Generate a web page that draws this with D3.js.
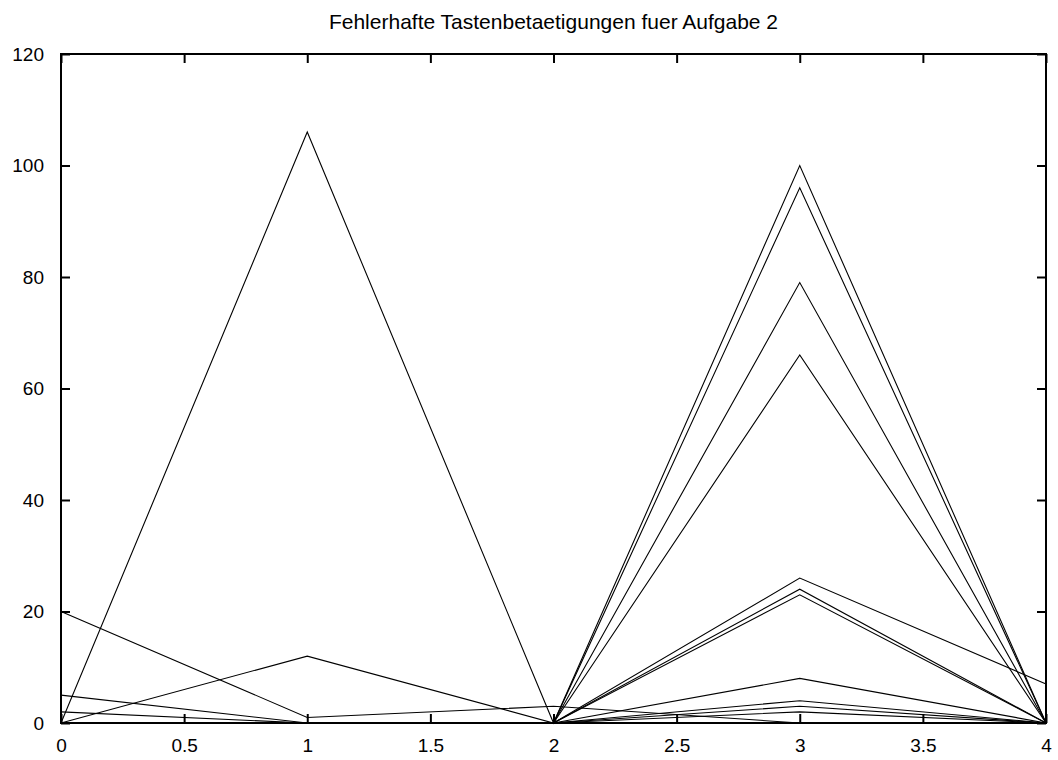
<!DOCTYPE html>
<html>
<head>
<meta charset="utf-8">
<script src="https://cdn.jsdelivr.net/npm/d3@7"></script>
<style>
  body { margin: 0; background: #fff; }
  text { font-family: "Liberation Sans", Arial, sans-serif; }
</style>
</head>
<body>
<svg width="1058" height="760"></svg>
<script>
// chart title and tick values
const title = 'Fehlerhafte Tastenbetaetigungen fuer Aufgabe 2'
const xValues = [0, 1, 2, 3, 4]
const xTicks = [0, 0.5, 1, 1.5, 2, 2.5, 3, 3.5, 4]
const yTicks = [0, 20, 40, 60, 80, 100, 120]

// one array per line, values at x = 0..4
const run1 = [0, 106, 0, 100, 0]
const run2 = [0, 12, 0, 96, 0]
const run3 = [20, 1, 3, 0, 0]
const run4 = [5, 0, 0, 79, 0]
const run5 = [2, 0, 0, 66, 0]
const run6 = [0, 0, 0, 26, 7]
const run7 = [0, 0, 0, 24, 0]
const run8 = [0, 0, 0, 23, 0]
const run9 = [0, 0, 0, 8, 0]
const run10 = [0, 0, 0, 4, 0]
const run11 = [0, 0, 0, 3, 0]
const run12 = [0, 0, 0, 2, 0]
const runs = [run1, run2, run3, run4, run5, run6, run7, run8, run9, run10, run11, run12]

const svg = d3.select('svg')
const plotLeft = 61, plotRight = 1046, plotTop = 54, plotBottom = 723

const xScale = d3.scaleLinear().domain([0, 4]).range([plotLeft, plotRight])
const yScale = d3.scaleLinear().domain([0, 120]).range([plotBottom, plotTop])

//title
svg.append('text')
  .attr('x', (plotLeft + plotRight) / 2)
  .attr('y', 29)
  .attr('text-anchor', 'middle')
  .attr('font-size', 21)
  .text(title)

//data lines
const line = d3.line()
  .x((d, i) => xScale(xValues[i]))
  .y(d => yScale(d))

svg.append('g')
  .selectAll('path')
  .data(runs)
  .enter().append('path')
    .attr('d', line)
    .attr('fill', 'none')
    .attr('stroke', '#000')
    .attr('stroke-width', 1.1)

//axes with inward ticks, mirrored on top and right
function styleAxis(g) {
  g.select('.domain').remove()
  g.selectAll('.tick line').attr('stroke', '#000').attr('stroke-width', 2)
  g.selectAll('.tick text').attr('font-size', 19).attr('fill', '#000')
    .attr('font-family', '"Liberation Sans", Arial, sans-serif')
}

svg.append('g')
  .attr('transform', `translate(0,${plotBottom})`)
  .call(d3.axisBottom(xScale).tickValues(xTicks).tickFormat(d3.format('')).tickSizeInner(-9).tickSizeOuter(0).tickPadding(16))
  .call(styleAxis)

svg.append('g')
  .attr('transform', `translate(0,${plotTop})`)
  .call(d3.axisTop(xScale).tickValues(xTicks).tickFormat('').tickSizeInner(-9).tickSizeOuter(0))
  .call(styleAxis)

svg.append('g')
  .attr('transform', `translate(${plotLeft},0)`)
  .call(d3.axisLeft(yScale).tickValues(yTicks).tickSizeInner(-9).tickSizeOuter(0).tickPadding(17))
  .call(styleAxis)

svg.append('g')
  .attr('transform', `translate(${plotRight},0)`)
  .call(d3.axisRight(yScale).tickValues(yTicks).tickFormat('').tickSizeInner(-9).tickSizeOuter(0))
  .call(styleAxis)

//frame
svg.append('rect')
  .attr('x', plotLeft)
  .attr('y', plotTop)
  .attr('width', plotRight - plotLeft)
  .attr('height', plotBottom - plotTop)
  .attr('fill', 'none')
  .attr('stroke', '#000')
  .attr('stroke-width', 2)
</script>
</body>
</html>
